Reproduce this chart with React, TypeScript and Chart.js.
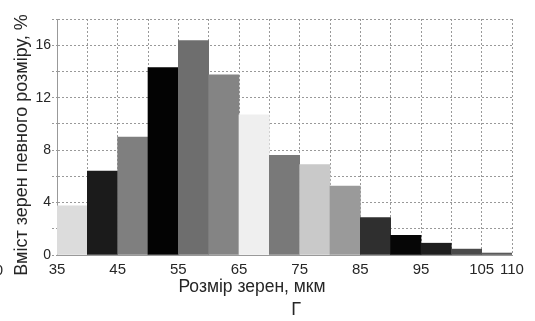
import { useEffect, useRef } from 'react';
import { Chart, registerables } from 'chart.js';

Chart.register(...registerables);

// ---- data ----
const binStarts = [35, 40, 45, 50, 55, 60, 65, 70, 75, 80, 85, 90, 95, 100, 105];
const binWidth = 5;
const shares = [3.75, 6.4, 9.0, 14.3, 16.35, 13.75, 10.7, 7.6, 6.9, 5.25, 2.85, 1.5, 0.9, 0.45, 0.15];
const barColors = [
  '#dcdcdc', '#1b1b1b', '#7f7f7f', '#030303', '#6e6e6e', '#848484', '#efefef', '#797979',
  '#c9c9c9', '#9a9a9a', '#2f2f2f', '#060606', '#1e1e1e', '#4a4a4a', '#5a5a5a',
];
const xLabelTicks = [35, 45, 55, 65, 75, 85, 95, 105, 110];
const yLabelTicks = [0, 4, 8, 12, 16];
const xMin = 35;
const xMax = 110;
const yMax = 18;
const xTitle = 'Розмір зерен, мкм';
const yTitle = 'Вміст зерен певного розміру, %';
const panelLetter = 'Г';
const strayText = '0';

const FONT = '"Liberation Sans", Arial, sans-serif';
const TEXT = '#262626';
const GRID = '#999999';
const DASH = [2, 2];

const textPlugin = {
  id: 'texts',
  afterDraw(chart: any) {
    const ctx = chart.ctx;
    ctx.save();
    ctx.fillStyle = TEXT;
    ctx.textBaseline = 'alphabetic';
    // x title
    ctx.font = `17.5px ${FONT}`;
    ctx.textAlign = 'center';
    ctx.fillText(xTitle, 252, 292);
    // panel letter
    ctx.font = `18px ${FONT}`;
    ctx.fillText(panelLetter, 296, 315);
    // stray glyph at left edge
    ctx.font = `15px ${FONT}`;
    ctx.textAlign = 'right';
    ctx.fillText(strayText, 3, 275);
    // y title (rotated)
    ctx.translate(27, 145);
    ctx.rotate(-Math.PI / 2);
    ctx.font = `18px ${FONT}`;
    ctx.textAlign = 'center';
    ctx.fillText(yTitle, 0, 0);
    ctx.restore();
  },
};

export default function App() {
  const ref = useRef<HTMLCanvasElement>(null);

  useEffect(() => {
    document.body.style.margin = '0';
    const canvas = ref.current!;
    const chart = new Chart(canvas, {
      type: 'bar',
      data: {
        datasets: [
          {
            data: binStarts.map((s, i) => ({ x: s + binWidth / 2, y: shares[i] })),
            backgroundColor: barColors,
            borderWidth: 0,
            barPercentage: 1,
            categoryPercentage: 1,
          },
        ],
      },
      options: {
        animation: false,
        responsive: false,
        devicePixelRatio: 1,
        layout: { padding: { left: 0, top: 19, right: 23, bottom: 0 } },
        plugins: { legend: { display: false }, tooltip: { enabled: false } },
        scales: {
          x: {
            type: 'linear',
            min: xMin,
            max: xMax,
            offset: false,
            afterFit: (s: any) => {
              s.height = 66;
            },
            afterBuildTicks: (s: any) => {
              const t = [];
              for (let v = xMin; v <= xMax; v += binWidth) t.push({ value: v });
              s.ticks = t;
            },
            grid: {
              offset: false,
              color: GRID,
              lineWidth: 1,
              drawTicks: false,
              borderDash: DASH,
              tickBorderDash: DASH,
            },
            border: { display: true, color: GRID, dash: DASH },
            ticks: {
              autoSkip: false,
              maxRotation: 0,
              padding: 6,
              color: TEXT,
              font: { family: FONT, size: 15 },
              callback: (v: any) => (xLabelTicks.includes(Number(v)) ? String(v) : ''),
            },
          },
          y: {
            min: 0,
            max: yMax,
            afterFit: (s: any) => {
              s.width = 57;
            },
            grid: {
              color: GRID,
              lineWidth: 1,
              tickLength: 5,
              borderDash: DASH,
              tickBorderDash: DASH,
            },
            border: { display: true, color: GRID, dash: DASH },
            ticks: {
              stepSize: 2,
              padding: 1,
              color: TEXT,
              font: { family: FONT, size: 14 },
              callback: (v: any) => (yLabelTicks.includes(Number(v)) ? String(v) : ''),
            },
          },
        },
      },
      plugins: [textPlugin],
    } as any);
    return () => chart.destroy();
  }, []);

  return (
    <div style={{ position: 'absolute', left: 0, top: 0, width: 535, height: 321, background: '#fff' }}>
      <canvas ref={ref} width={535} height={321} />
    </div>
  );
}
